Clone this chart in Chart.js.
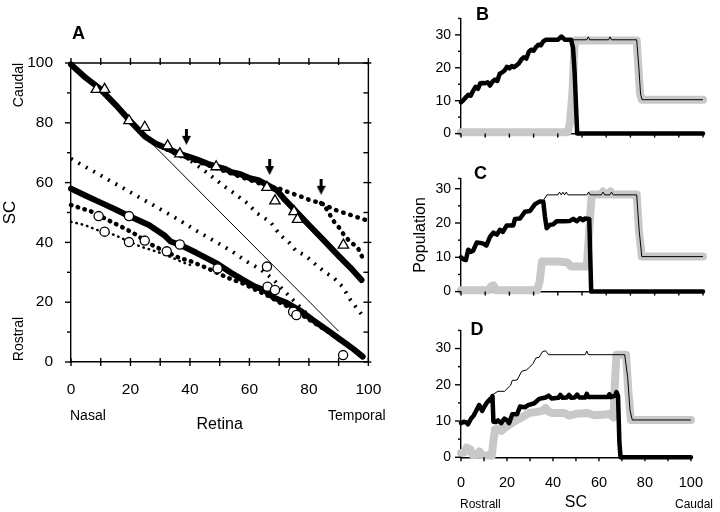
<!DOCTYPE html>
<html>
<head>
<meta charset="utf-8">
<script src="https://cdn.jsdelivr.net/npm/chart.js@4.4.0/dist/chart.umd.min.js"></script>
<style>
  html, body { margin: 0; padding: 0; background: #fff; }
  #wrap { position: relative; width: 720px; height: 512px; overflow: hidden;
          font-family: 'Liberation Sans', Arial, sans-serif; color: #000; }
  canvas { position: absolute; }
  .lbl { position: absolute; white-space: nowrap; line-height: 1; }
  .letter { font-weight: bold; font-size: 18px; }
  .rot { transform: translate(-50%, -50%) rotate(-90deg); }
</style>
</head>
<body>
<div id="wrap">
  <canvas id="chartA" width="400" height="440" style="left:0;top:0"></canvas>
  <canvas id="chartB" width="320" height="152" style="left:400px;top:0"></canvas>
  <canvas id="chartC" width="320" height="150" style="left:400px;top:160px"></canvas>
  <canvas id="chartD" width="320" height="200" style="left:400px;top:312px"></canvas>

  <div class="lbl letter" style="left:72px;top:24.4px">A</div>
  <div class="lbl letter" style="left:476px;top:5px">B</div>
  <div class="lbl letter" style="left:474px;top:164.4px">C</div>
  <div class="lbl letter" style="left:470.5px;top:320px">D</div>

  <div class="lbl rot" style="left:18px;top:85px;font-size:14px">Caudal</div>
  <div class="lbl rot" style="left:18px;top:338.5px;font-size:14px">Rostral</div>
  <div class="lbl" style="left:70px;top:407.5px;font-size:14px">Nasal</div>
  <div class="lbl" style="left:328px;top:407.5px;font-size:14px">Temporal</div>
  <div class="lbl" style="left:460px;top:498.4px;font-size:12px">Rostrall</div>
  <div class="lbl" style="left:675px;top:498.4px;font-size:12px">Caudal</div>
</div>

<script>
'use strict';

// ============================================================
// Panel A : Retina (x) -> SC (y)
// ============================================================
const A_X_TICKS = [0, 20, 40, 60, 80, 100];
const A_Y_TICKS = [0, 20, 40, 60, 80, 100];
const A_MINOR   = [10, 30, 50, 70, 90];
const A_ALL     = [0, 10, 20, 30, 40, 50, 60, 70, 80, 90, 100];

// thick model lines
const upperThick = [[0,99.5],[5,95],[9.6,91.5],[15,86],[19.5,81],[25,75.3],[28.4,73.1],[32,71.6],
  [36,69.8],[40,68.5],[42.7,67.6],[46,66.3],[49.3,65.3],[52,64.5],[54,63.5],[57,62.8],[60.4,61.4],
  [63,60.8],[66,59.2],[69.2,57.5],[72,54.2],[74.7,51.4],[80,45.8],[84.7,41],[90,35.5],[94,31.5],[97.7,27.4]];
const lowerThick = [[0,58],[5,55.6],[10,53.3],[15,51],[19.5,48.8],[26.2,45.8],[31.6,42.2],[33.5,40.3],
  [36.6,39.2],[42,36.6],[49.3,32.8],[53.7,29.9],[58,27.4],[61.5,25.4],[65,24],[68.1,21.6],[72.5,19.8],
  [76.9,17.3],[81.4,14],[86,10.8],[89,8.6],[92.4,6.2],[95,4.3],[98.1,1.8]];
const thinDiagonal = [[28,72.3],[90,10.3]];

// dotted model lines (filled circles)
const dotsUpper = [[30,72.2],[36,69.2],[42.7,67],[49.3,64.7],[54,63],[60.4,60.8],[66,58.8],[69.8,58.1],
  [74.2,56.4],[78,55.1],[80.2,54.2],[84.1,53.1],[89.1,50.8],[92.4,49.7],[95.7,48.6],[100,47.2]];
const dotsUpperBranch = [[84.1,53.1],[86.3,50.8],[88,47.5],[90.1,45],[91.8,42.5],[94,40],[96.3,38.5],[97.9,35.2]];
const dotsLower = [[0,52.5],[3.5,51.4],[6.9,50.3],[12.4,47.5],[16.8,45.3],[21.2,43],[26.5,39.5],[31,37.3],
  [36.7,34.7],[40,33.8],[46,31.3],[52.6,28.2],[58,26.2],[62,24.2],[66,22.3],[70,20],[74,18],[78,15.5],
  [82,13],[86,10.4],[90,7.6],[94,5]];
const dotsSmall = [[0,46.9],[4.6,45.8],[9,44.1],[14.6,42.5],[19,40.5],[23.4,38.6],[28.9,36.9],[33.3,35.2],
  [37.7,33.3],[40,32.5]];

// dotted model lines (small filled triangles)
const triLineA = [[0,68],[14.6,59.8],[25.6,53.6],[35.5,48],[42.7,43.6],[53.7,37.3],[59.3,33.5],[63.7,31],
  [68.1,27.5],[73.6,21.8],[77.5,17.9],[80,15.5]];
const triLineB = [[38,68.8],[43.8,64.8],[46,63.1],[51.6,58.7],[54.9,56.4],[59.3,53.1],[62.6,49.7],[67,46.9],
  [70.3,42.5],[73.6,39.7],[75.8,37],[78.6,35.8],[82.5,32.4],[85.8,29.7],[88,28.5],[91.3,25.2],[94,20.7],[97.9,15.7]];

// measured data
const openTriX = [8.5, 11.3, 19.5, 24.8, 32.5, 36.6, 48.8, 65.9, 68.6, 75, 76.2, 91.6];
const openTriY = [91.2, 91.2, 80.7, 78.5, 72.3, 69.6, 65.3, 58.4, 53.9, 50.3, 47.7, 39.1];
const openCircX = [9.3, 11.3, 19.5, 19.5, 24.8, 32.2, 36.6, 49.3, 65.9, 66.1, 68.6, 74.7, 75.8, 91.5];
const openCircY = [48.8, 43.6, 48.8, 40.1, 40.6, 37, 39.3, 31.3, 31.9, 25.2, 24.1, 16.8, 15.7, 2.3];

// arrows (centre of the arrow glyph)
const arrowX = [38.8, 66.8, 84.1];
const arrowY = [75.3, 65.2, 58.6];

// ============================================================
// Panels B-D : Population along SC
// ============================================================
const P_X_TICKS = [0, 20, 40, 60, 80, 100];
const P_X_ALL   = [0, 10, 20, 30, 40, 50, 60, 70, 80, 90, 100];
const P_Y_TICKS = [0, 10, 20, 30];
const P_Y_MINOR = [5, 15, 25, 35];
const P_Y_MINOR_C = [5, 15, 25, 33];

const bBlack = [[0,9.5],[1,10.2],[2,11],[3,11.8],[4,11.5],[5,13],[6,14.2],[7,13.6],[8,15.3],[9,15.4],
  [10,15.3],[11,15.6],[12,14.6],[13,15.8],[14,16.4],[15,16],[16,18.2],[17,18.6],[18,19.2],[19,20.3],
  [20,19.8],[21,20.5],[22,20.2],[23,20.8],[24,21.4],[25,22.6],[26,23.2],[27,22.8],[28,24.8],[29,25.5],
  [30,25.2],[31,26.3],[32,27],[33,26.8],[34,28],[35,28.5],[40,28.5],[41.5,29.5],[43,28.5],[45.5,28.5],
  [46.3,26],[47,18],[48,0],[100,0]];
const bGray = [[0,0.4],[44,0.4],[45,3],[46,12],[47,28.3],[72.6,28.3],[73.3,20],[74,12],[74.7,10.3],[100,10.3]];
const bTotal = [[44,28.5],[52,28.5],[52.6,29.4],[53.2,28.5],[61,28.5],[61.6,29.4],[62.2,28.5],[72.6,28.5],
  [73.5,20],[74.2,12],[74.8,10.3],[100,10.3]];

const cBlack = [[0,10],[1,9.4],[2,9.2],[3,12.2],[4,11.6],[5,11.9],[6.5,14.3],[8,14.2],[9.2,14],[10.5,13.4],
  [12,16],[13.4,17.2],[14.8,16.6],[16.1,18],[17.3,17.4],[18.9,19.3],[21.6,19.3],[22.3,21.2],[24.4,21.3],
  [26.4,23.3],[28.5,23.5],[30.6,25.5],[32.6,26.3],[34,26.2],[34.7,21.8],[35.4,18.5],[36.8,19.5],[38.1,19.6],
  [39.5,20.5],[42.3,20.5],[45,20.6],[46.4,21.2],[47.8,20.5],[49.2,21.4],[50.5,20.8],[51.2,21.3],[53,21.2],
  [53.8,0],[100,0]];
const cGray = [[0,0.4],[11.5,0.4],[12.5,1.6],[13.5,1.8],[14.5,0.4],[31.5,0.4],[32.5,3],[33.5,8.8],[40,8.8],
  [44,8.5],[45.5,7.3],[52,7.3],[53,18],[54,28.3],[58,28.3],[58.7,29.2],[59.5,28.3],[61,28.3],[61.8,29.2],
  [62.5,28.3],[72.6,28.3],[73.5,18],[74.7,10.2],[100,10.2]];
const cTotal = [[34,26.5],[35.5,28.2],[40,28.2],[40.7,29],[41.4,28.2],[42.1,29],[42.8,28.2],[43.5,29],
  [44.2,28.2],[52,28.2],[52.7,29],[53.4,28.2],[58,28.2],[58.7,29],[59.4,28.2],[61.5,28.2],[62.2,29],
  [62.9,28.2],[72.6,28.2],[73.6,18],[74.7,10.2],[100,10.2]];

const dBlack = [[0,9.4],[1.2,9.8],[2.3,9.6],[3,9.1],[4.4,10.7],[5.5,11.5],[6.5,12.7],[7.9,14.4],[9.2,12.8],
  [10.2,14],[11.3,15.1],[12.7,16.1],[13.4,15.4],[13.7,16.9],[14.1,9.8],[15.2,9.7],[16.1,10.2],[17.5,9.4],
  [18.9,10.7],[20,10.2],[20.9,9.4],[22.3,11.9],[24.4,11.9],[25.7,14],[27.8,13.8],[29.2,14.4],[31.9,14.9],
  [34,16.1],[36.8,16.5],[38.1,17],[39.5,16.2],[42.3,16.4],[43.2,17.2],[44.2,16.4],[46,16.5],[47,17.2],
  [48,16.4],[49.5,16.5],[50.5,17.3],[51.5,16.5],[54,16.5],[54.7,17.5],[55.4,16.6],[64,16.6],[64.5,17.4],
  [65.2,16.6],[67.1,17],[67.6,18],[68.3,17],[68.9,4],[69.4,0],[100,0]];
const dGray = [[0,1.2],[1.5,1.4],[2.5,2.7],[4,2.2],[5,0.6],[7,0.6],[8,1.6],[9,0.6],[13.4,0.4],[14,4],
  [14.8,7.7],[16.1,7.8],[17.5,7.3],[18.9,8],[20.2,8.6],[23,9.8],[26.4,11],[29.9,12.3],[32,12.4],[35.4,12.8],
  [36.8,13.6],[38,12.6],[40,12.2],[45,12.2],[47,11.5],[50,12],[55,12.2],[58,11.6],[63,11.8],[64.3,12],
  [66.4,11],[66.9,20],[67.6,28.3],[71.8,28.3],[72.8,18],[73.9,10.3],[100,10.3]];
const dTotal = [[12.7,16.1],[14,17.4],[16.1,18.2],[18.9,18.2],[21.6,19.9],[22.3,21.2],[24.4,21.3],[26.4,23.7],
  [28.5,24.1],[29.9,24.9],[31.3,25.8],[32.6,27.4],[34,27.6],[35.4,29.1],[36.8,29.4],[38.1,28.3],[54,28.3],
  [54.7,29.3],[55.4,28.3],[71.2,28.3],[72.5,22],[73.5,13],[74.5,10.3],[100,10.3]];

// ============================================================
// Helpers
// ============================================================
Chart.defaults.font.family = "'Liberation Sans', Arial, sans-serif";
Chart.defaults.color = '#000';

const GRAY = '#c8c8c8';
const pts = arr => arr.map(([x, y]) => ({ x, y }));
const zip = (xs, ys) => xs.map((x, i) => ({ x, y: ys[i] }));
const fixTicks = list => scale => { scale.ticks = list.map(v => ({ value: v })); };

/** Line dataset helper */
function line(data, width, extra = {}) {
  return Object.assign({
    data: pts(data), showLine: true, pointRadius: 0, borderColor: '#000', borderWidth: width,
    borderCapStyle: 'round', borderJoinStyle: 'round', tension: 0, fill: false, clip: false,
  }, extra);
}

/** Small down arrow used as point style */
function makeArrow() {
  const c = document.createElement('canvas');
  c.width = 9; c.height = 16;
  const g = c.getContext('2d');
  g.fillStyle = '#000';
  g.fillRect(3, 0, 3, 8);
  g.beginPath(); g.moveTo(0, 7); g.lineTo(9, 7); g.lineTo(4.5, 16); g.closePath(); g.fill();
  return c;
}

/** Tick marks on the frame (inward and outward), plus the optional top/right box */
const frameTicks = {
  id: 'frameTicks',
  afterDraw(chart, args, opts) {
    const { ctx, chartArea: a, scales: { x, y } } = chart;
    ctx.save();
    ctx.strokeStyle = '#000';
    ctx.lineWidth = 1.4;
    if (opts.box) {
      ctx.beginPath();
      ctx.moveTo(a.left, a.top); ctx.lineTo(a.right, a.top); ctx.lineTo(a.right, a.bottom);
      ctx.stroke();
    }
    for (const m of opts.marks || []) {
      for (const v of m.values) {
        ctx.beginPath();
        if (m.side === 'left')   { const p = y.getPixelForValue(v); ctx.moveTo(a.left - m.out, p); ctx.lineTo(a.left + m.inn, p); }
        if (m.side === 'right')  { const p = y.getPixelForValue(v); ctx.moveTo(a.right + m.out, p); ctx.lineTo(a.right - m.inn, p); }
        if (m.side === 'bottom') { const p = x.getPixelForValue(v); ctx.moveTo(p, a.bottom + m.out); ctx.lineTo(p, a.bottom - m.inn); }
        if (m.side === 'top')    { const p = x.getPixelForValue(v); ctx.moveTo(p, a.top - m.out); ctx.lineTo(p, a.top + m.inn); }
        ctx.stroke();
      }
    }
    ctx.restore();
  }
};

const BASE = {
  responsive: false, animation: false, events: [],
  plugins: { legend: { display: false }, tooltip: { enabled: false } },
};

// ============================================================
// Panel A
// ============================================================
new Chart(document.getElementById('chartA'), {
  type: 'scatter',
  plugins: [frameTicks],
  data: {
    datasets: [
      { data: zip(arrowX, arrowY), pointStyle: makeArrow(), pointRadius: 8 },
      { data: zip(openTriX, openTriY), pointStyle: 'triangle', pointRadius: 6, borderWidth: 1.3,
        borderColor: '#000', backgroundColor: '#fff' },
      { data: zip(openCircX, openCircY), pointStyle: 'circle', pointRadius: 4.6, borderWidth: 1.3,
        borderColor: '#000', backgroundColor: '#fff' },
      line(upperThick, 6),
      line(lowerThick, 6),
      line(dotsUpper, 4.5, { borderDash: [0.5, 7] }),
      line(dotsUpperBranch, 4.5, { borderDash: [0.5, 7] }),
      line(dotsLower, 4.5, { borderDash: [0.5, 6.5] }),
      line(dotsSmall, 2.5, { borderDash: [0.5, 5] }),
      line(triLineA, 3.8, { borderDash: [2, 6.5], borderCapStyle: 'butt' }),
      line(triLineB, 3.8, { borderDash: [2, 6.5], borderCapStyle: 'butt' }),
      line(thinDiagonal, 1, { borderCapStyle: 'butt' }),
    ]
  },
  options: Object.assign({}, BASE, {
    layout: { padding: { top: 63, right: 27, left: 0, bottom: 0 } },
    plugins: Object.assign({}, BASE.plugins, {
      frameTicks: {
        box: true,
        marks: [
          { side: 'left',   values: A_Y_TICKS, out: 6, inn: 0 },
          { side: 'left',   values: A_MINOR,   out: 4, inn: 0 },
          { side: 'bottom', values: A_ALL,     out: 4, inn: 4 },
          { side: 'top',    values: A_ALL,     out: 5, inn: 2 },
          { side: 'right',  values: A_Y_TICKS, out: 3, inn: 5 },
          { side: 'right',  values: A_MINOR,   out: 0, inn: 5 },
        ]
      }
    }),
    scales: {
      x: {
        type: 'linear', min: 0, max: 100,
        afterBuildTicks: fixTicks(A_X_TICKS),
        afterFit: s => { s.height = 78; },
        grid: { display: false, drawTicks: false },
        border: { display: true, color: '#000', width: 1.4 },
        ticks: { font: { size: 15.5 }, padding: 18.7, autoSkip: false, maxRotation: 0 },
        title: { display: true, text: 'Retina', font: { size: 16 }, padding: { top: 0, bottom: 6 } },
      },
      y: {
        type: 'linear', min: 0, max: 100,
        afterBuildTicks: fixTicks(A_Y_TICKS),
        afterFit: s => { s.width = 71; },
        grid: { display: false, drawTicks: false },
        border: { display: true, color: '#000', width: 1.4 },
        ticks: { font: { size: 15.5 }, padding: 18, autoSkip: false },
        title: { display: true, text: 'SC', font: { size: 17 }, padding: { top: 0, bottom: 0 } },
      }
    }
  })
});

// ============================================================
// Panels B, C, D
// ============================================================
function populationPanel(id, cfg) {
  return new Chart(document.getElementById(id), {
    type: 'scatter',
    plugins: [frameTicks],
    data: {
      datasets: [
        line(cfg.total, 1, { borderCapStyle: 'butt' }),
        line(cfg.black, 4.5),
        line(cfg.gray, 8, { borderColor: GRAY }),
      ]
    },
    options: Object.assign({}, BASE, {
      layout: { padding: { top: cfg.top, right: 17, left: 0, bottom: 0 } },
      plugins: Object.assign({}, BASE.plugins, {
        frameTicks: {
          marks: [
            { side: 'left',   values: P_Y_TICKS, out: 6, inn: 0 },
            { side: 'left',   values: cfg.minor, out: 3, inn: 0 },
            { side: 'bottom', values: P_X_ALL,   out: 4, inn: 0 },
          ]
        }
      }),
      scales: {
        x: {
          type: 'linear', min: 0, max: 100,
          afterBuildTicks: fixTicks(P_X_TICKS),
          afterFit: s => { s.height = cfg.xHeight; },
          grid: { display: false, drawTicks: false },
          border: { display: true, color: '#000', width: 1.4 },
          ticks: { display: cfg.xLabels, font: { size: 14.5 }, padding: 17, autoSkip: false, maxRotation: 0 },
          title: { display: cfg.xLabels, text: 'SC', font: { size: 16 }, padding: { top: 0, bottom: 0 } },
        },
        y: {
          type: 'linear', min: 0, max: cfg.max,
          afterBuildTicks: fixTicks(P_Y_TICKS),
          afterFit: s => { s.width = 61; },
          grid: { display: false, drawTicks: false },
          border: { display: true, color: '#000', width: 1.4 },
          ticks: { font: { size: 14 }, padding: 10, autoSkip: false },
          title: { display: cfg.yTitle, text: 'Population', font: { size: 16 }, padding: { top: 11.4, bottom: 0 } },
        }
      }
    })
  });
}

populationPanel('chartB', { black: bBlack, gray: bGray, total: bTotal, max: 35, minor: P_Y_MINOR,
  top: 9.3, xHeight: 5, xLabels: false, yTitle: false });
populationPanel('chartC', { black: cBlack, gray: cGray, total: cTotal, max: 33, minor: P_Y_MINOR_C,
  top: 12.4, xHeight: 6.7, xLabels: false, yTitle: true });
populationPanel('chartD', { black: dBlack, gray: dGray, total: dTotal, max: 35, minor: P_Y_MINOR,
  top: 6.5, xHeight: 54.7, xLabels: true, yTitle: false });
</script>
</body>
</html>
